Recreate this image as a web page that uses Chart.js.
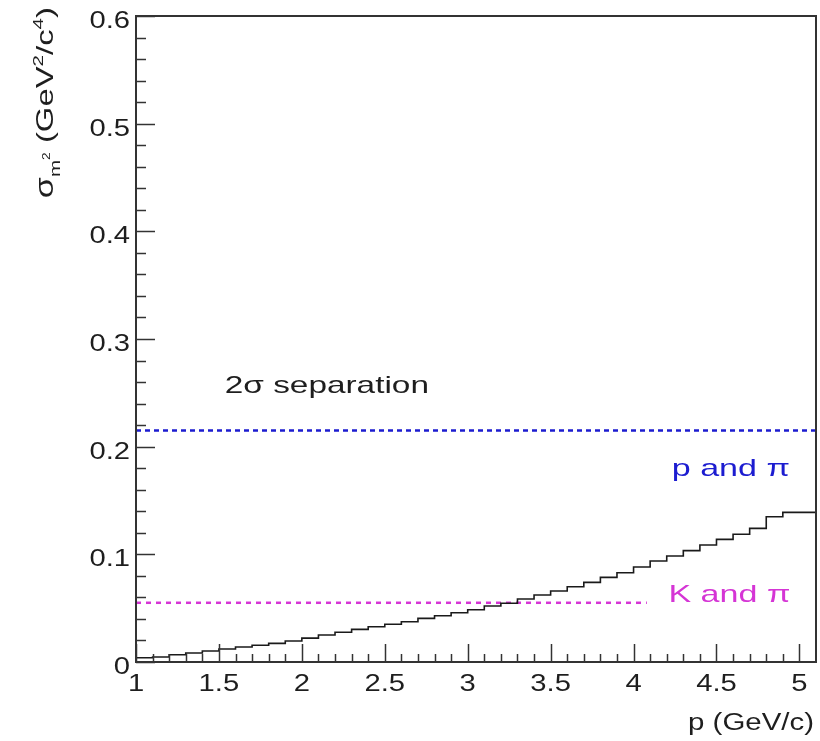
<!DOCTYPE html>
<html>
<head>
<meta charset="utf-8">
<script src="https://cdn.jsdelivr.net/npm/chart.js@4.4.1/dist/chart.umd.min.js"></script>
<style>
  html, body { margin: 0; padding: 0; background: #fff; }
  #wrap { width: 820px; height: 741px; position: relative; }
</style>
</head>
<body>
<div id="wrap"><canvas id="sepChart"></canvas></div>
<script>
// bin edges in p (GeV/c), 0.1 wide
const binEdges = [1.0, 1.1, 1.2, 1.3, 1.4, 1.5, 1.6, 1.7, 1.8, 1.9,
                  2.0, 2.1, 2.2, 2.3, 2.4, 2.5, 2.6, 2.7, 2.8, 2.9,
                  3.0, 3.1, 3.2, 3.3, 3.4, 3.5, 3.6, 3.7, 3.8, 3.9,
                  4.0, 4.1, 4.2, 4.3, 4.4, 4.5, 4.6, 4.7, 4.8, 4.9,
                  5.0, 5.1];

// sigma of m^2 per bin (GeV^2/c^4)
const sigmaM2 = [0.0040, 0.0046, 0.0068, 0.0084, 0.0102, 0.0121, 0.0139, 0.0155, 0.0173, 0.0195,
                 0.0222, 0.0251, 0.0276, 0.0303, 0.0328, 0.0350, 0.0374, 0.0405, 0.0430, 0.0458,
                 0.0485, 0.0520, 0.0545, 0.0585, 0.0622, 0.0659, 0.0699, 0.0740, 0.0786, 0.0829,
                 0.0882, 0.0938, 0.0984, 0.1034, 0.1086, 0.1139, 0.1186, 0.1241, 0.1349, 0.1390,
                 0.1390];

// 2 sigma separation levels
const pPiLevel = 0.215;
const pPiRange = [1.0, 5.1];
const kPiLevel = 0.055;
const kPiRange = [1.0, 4.08];

const xTicks = [1, 1.5, 2, 2.5, 3, 3.5, 4, 4.5, 5];
const xTickLabels = ['1', '1.5', '2', '2.5', '3', '3.5', '4', '4.5', '5'];
const yTicks = [0, 0.1, 0.2, 0.3, 0.4, 0.5, 0.6];
const yTickLabels = ['0', '0.1', '0.2', '0.3', '0.4', '0.5', '0.6'];

const FONT = '"Liberation Sans", Arial, sans-serif';

// build the step outline from the bins
const histPoints = [];
sigmaM2.forEach((v, i) => {
  histPoints.push({ x: binEdges[i], y: v });
  histPoints.push({ x: binEdges[i + 1], y: v });
});

// ROOT text comes out wide, so every label gets a horizontal stretch sx
function drawRich(ctx, parts, x, y, align, sx, rotate) {
  ctx.save();
  ctx.translate(x, y);
  if (rotate) ctx.rotate(-Math.PI / 2);
  ctx.scale(sx, 1);
  let w = 0;
  parts.forEach(p => {
    ctx.font = p.size + 'px ' + FONT;
    p.w = ctx.measureText(p.text).width;
    w += p.w;
  });
  let cx = align === 'right' ? -w : (align === 'center' ? -w / 2 : 0);
  ctx.textAlign = 'left';
  ctx.textBaseline = 'alphabetic';
  parts.forEach(p => {
    ctx.font = p.size + 'px ' + FONT;
    ctx.fillStyle = p.color || '#1e1e1e';
    ctx.fillText(p.text, cx, p.dy || 0);
    cx += p.w;
  });
  ctx.restore();
}

const rootFrame = {
  id: 'rootFrame',
  afterDraw(chart) {
    const ctx = chart.ctx;
    const a = chart.chartArea;
    const xs = chart.scales.x;
    const ys = chart.scales.y;

    ctx.save();
    ctx.strokeStyle = '#333';
    ctx.lineWidth = 1.5;

    // y ticks: major every 0.1, minor every 0.02
    for (let k = 0; k <= 30; k++) {
      const py = Math.round(ys.getPixelForValue(k * 0.02)) + 0.5;
      const len = k % 5 === 0 ? 19 : 10;
      ctx.beginPath();
      ctx.moveTo(a.left, py);
      ctx.lineTo(a.left + len, py);
      ctx.stroke();
    }
    // x ticks: major every 0.5, minor every 0.1
    for (let k = 0; k <= 40; k++) {
      const px = Math.round(xs.getPixelForValue(1 + k * 0.1)) + 0.5;
      const len = k % 5 === 0 ? 18 : 8;
      ctx.beginPath();
      ctx.moveTo(px, a.bottom);
      ctx.lineTo(px, a.bottom - len);
      ctx.stroke();
    }

    // frame
    ctx.lineWidth = 2;
    ctx.strokeRect(a.left, a.top, a.right - a.left, a.bottom - a.top);
    ctx.restore();

    // tick labels
    yTicks.forEach((v, i) => {
      drawRich(ctx, [{ text: yTickLabels[i], size: 23 }], a.left - 6, ys.getPixelForValue(v) + 12, 'right', 1.27);
    });
    xTicks.forEach((v, i) => {
      drawRich(ctx, [{ text: xTickLabels[i], size: 23 }], xs.getPixelForValue(v), a.bottom + 29, 'center', 1.27);
    });

    // axis titles
    drawRich(ctx, [{ text: 'p (GeV/c)', size: 23 }], 814, 730, 'right', 1.28);
    drawRich(ctx, [
      { text: 'σ', size: 25 },
      { text: 'm', size: 15, dy: 7 },
      { text: '2', size: 10, dy: -3 },
      { text: ' (GeV', size: 24 },
      { text: '2', size: 15, dy: -10 },
      { text: '/c', size: 24 },
      { text: '4', size: 15, dy: -10 },
      { text: ')', size: 24 }
    ], 53, 7, 'right', 1.37, true);

    // annotations
    drawRich(ctx, [{ text: '2σ separation', size: 24 }],
      xs.getPixelForValue(1.535), ys.getPixelForValue(0.25), 'left', 1.39);
    drawRich(ctx, [{ text: 'p and π', size: 24, color: '#1c1cd0' }],
      xs.getPixelForValue(4.23), ys.getPixelForValue(0.173), 'left', 1.42);
    drawRich(ctx, [{ text: 'K and π', size: 24, color: '#d535d5' }],
      xs.getPixelForValue(4.21), ys.getPixelForValue(0.056), 'left', 1.42);
  }
};

const ctx = document.getElementById('sepChart').getContext('2d');
const chart = new Chart(ctx, {
  type: 'line',
  data: {
    datasets: [
      {
        label: 'sigma m2',
        data: histPoints,
        borderColor: '#1a1a1a',
        borderWidth: 1.6,
        pointRadius: 0,
        tension: 0,
        fill: false
      },
      {
        label: 'p and pi',
        data: pPiRange.map(x => ({ x: x, y: pPiLevel })),
        borderColor: '#1c1cd0',
        borderWidth: 2.5,
        borderDash: [5, 4],
        pointRadius: 0,
        fill: false
      },
      {
        label: 'K and pi',
        data: kPiRange.map(x => ({ x: x, y: kPiLevel })),
        borderColor: '#d535d5',
        borderWidth: 2.5,
        borderDash: [5, 5],
        pointRadius: 0,
        fill: false
      }
    ]
  },
  options: {
    responsive: true,
    maintainAspectRatio: false,
    animation: false,
    layout: { padding: { left: 136, right: 4, top: 16, bottom: 79 } },
    plugins: {
      legend: { display: false },
      tooltip: { enabled: false }
    },
    scales: {
      x: { type: 'linear', min: 1, max: 5.1, display: false },
      y: { type: 'linear', min: 0, max: 0.6, display: false }
    }
  },
  plugins: [rootFrame]
});
</script>
</body>
</html>
